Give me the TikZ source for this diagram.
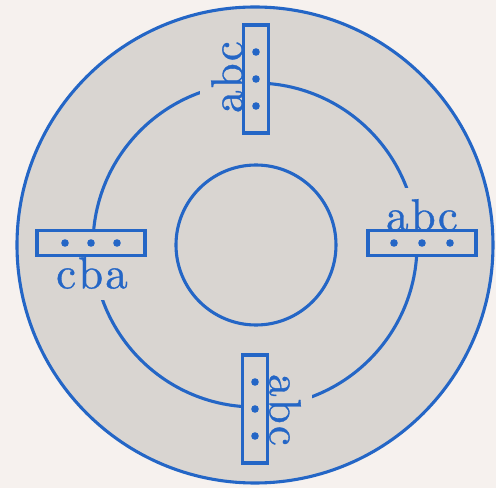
\documentclass[tikz,border=0pt]{standalone}
\usepackage{fontspec}
\newfontfamily\tagfont{lmroman10-regular.otf}[FakeBold=0.7]

\definecolor{inkblue}{RGB}{36,102,198}
\definecolor{diskgray}{RGB}{217,213,209}
\definecolor{paper}{RGB}{246,241,238}

\begin{document}
\begin{tikzpicture}[x=0.025cm, y=0.025cm,
  ring/.style={draw=inkblue, line width=2.2pt},
  slot/.style={draw=inkblue, fill=diskgray, line width=2.2pt, rectangle,
    minimum width=2.7cm, minimum height=0.62cm, inner sep=0pt},
  pin/.style={circle, fill=inkblue, inner sep=0pt, minimum size=0.19cm},
  tag/.style={text=inkblue, fill=diskgray, inner sep=0.28cm,
    font=\tagfont\fontsize{32}{38}\selectfont}]

  % ==========================================
  % Fond et disque
  % ==========================================
  \fill[paper] (-255,-243) rectangle (241,245);
  \useasboundingbox (-255,-243) rectangle (241,245);
  \fill[diskgray] (0,0) circle (238);
  \draw[ring] (0,0) circle (238);

  % Cercle du milieu (coupé par les étiquettes)
  \draw[ring] (0,0) circle (162);

  % Étiquettes (le fond gris masque le cercle)
  \node[tag, rotate=90]  (tagN) at (-28,168) {a\kern1.5pt b\kern1.5pt c};
  \node[tag]             (tagE) at (167,30)  {a\kern1.5pt b\kern1.5pt c};
  \node[tag, rotate=-90] (tagS) at (30,-165) {a\kern1.5pt b\kern1.5pt c};
  \node[tag]             (tagW) at (-163,-28) {c\kern1.5pt b\kern1.5pt a};

  % ==========================================
  % Boîtes à trois points
  % ==========================================
  \foreach \s/\x/\y/\r/\dx/\dy in {N/1/166/90/0/27, E/167/2/0/28/0,
                                   S/0/-164/90/0/27, W/-164/2/0/26/0}{
    \node[slot, rotate=\r] (slot\s) at (\x,\y) {};
    \foreach \k in {-1,0,1}
      \node[pin] (pin\s\k) at (\x+\k*\dx, \y+\k*\dy) {};
  }

  % Cercle intérieur
  \draw[ring] (1,0) circle (80);

\end{tikzpicture}
\end{document}
